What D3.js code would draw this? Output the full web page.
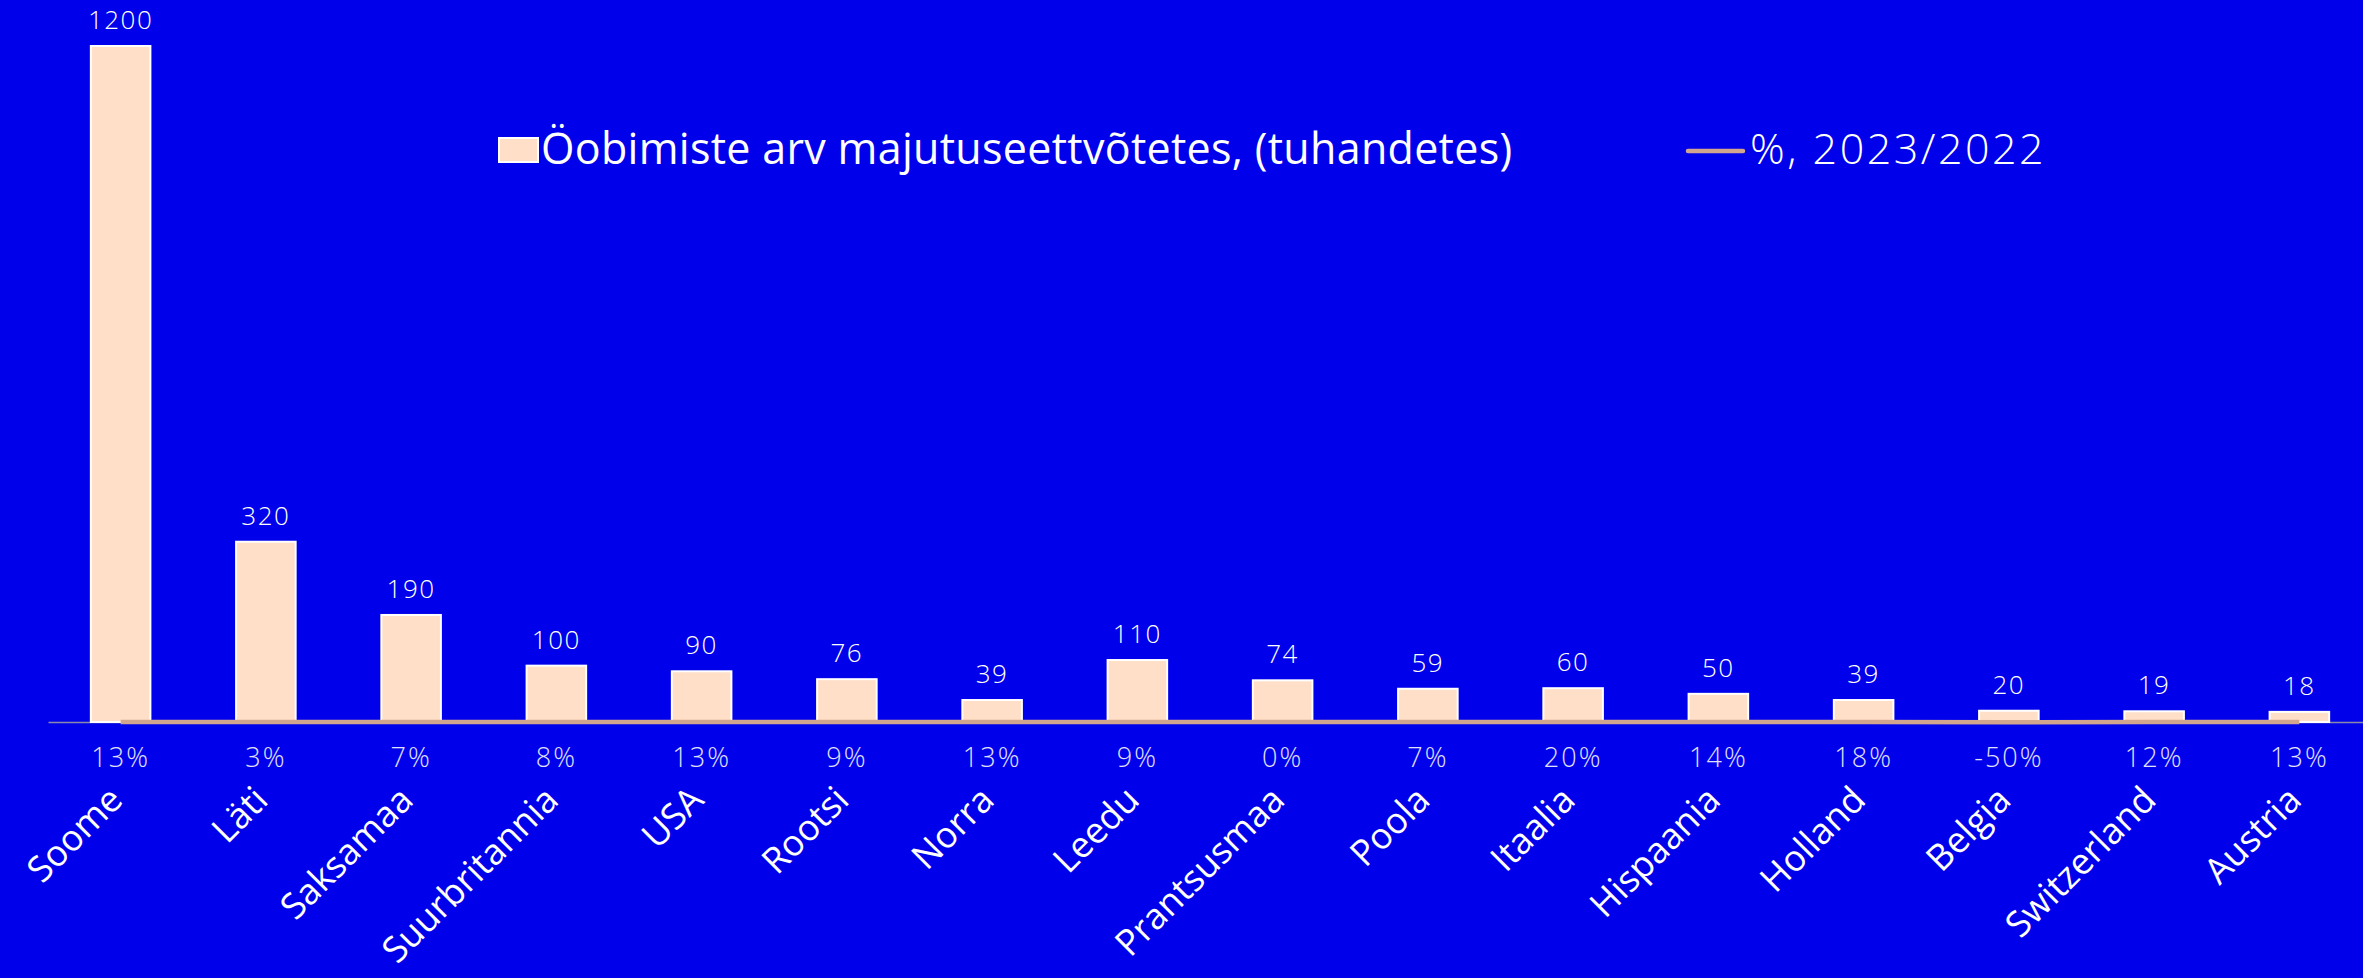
<!DOCTYPE html>
<html>
<head>
<meta charset="utf-8">
<script src="https://cdn.jsdelivr.net/npm/d3@7"></script>
<style>
  html, body { margin: 0; padding: 0; background: #0000EA; overflow: hidden; }
  text { font-family: "Open Sans", "Noto Sans", sans-serif; fill: #fff; }
</style>
</head>
<body>
<script>
// categories and values
const countries = ["Soome", "Läti", "Saksamaa", "Suurbritannia", "USA", "Rootsi", "Norra", "Leedu",
  "Prantsusmaa", "Poola", "Itaalia", "Hispaania", "Holland", "Belgia", "Switzerland", "Austria"];
const nights = [1200, 320, 190, 100, 90, 76, 39, 110, 74, 59, 60, 50, 39, 20, 19, 18];
const change = [0.13, 0.03, 0.07, 0.08, 0.13, 0.09, 0.13, 0.09, 0.00, 0.07, 0.20, 0.14, 0.18, -0.50, 0.12, 0.13];
const barLabel = "Öobimiste arv majutuseettvõtetes, (tuhandetes)";
const lineLabel = "%, 2023/2022";

const width = 2363, height = 978;
const baseY = 722;

const svg = d3.select("body").append("svg")
    .attr("width", width)
    .attr("height", height);

var x = d3.scaleBand().domain(countries).range([48, 2372]).paddingInner(0.59).paddingOuter(0.295);
var y = d3.scaleLinear().domain([0, d3.max(nights)]).range([baseY, 46]);

// axis line + category labels
const ax = svg.append("g")
    .attr("transform", `translate(0,${baseY})`)
    .call(d3.axisBottom(x).tickSize(0));
ax.select(".domain").attr("stroke", "#8a8aa8").attr("stroke-width", 1.5);
ax.selectAll(".tick text")
    .attr("y", 0).attr("dy", 0)
    .attr("text-anchor", "end")
    .attr("transform", "translate(4,80) rotate(-45)")
    .style("font-family", "'Open Sans', sans-serif")
    .style("font-size", "36px")
    .style("fill", "#fff");

// bars
svg.append("g").selectAll("rect")
  .data(nights)
  .join("rect")
    .attr("x", (d, i) => x(countries[i]))
    .attr("y", d => y(d))
    .attr("width", x.bandwidth())
    .attr("height", d => baseY - y(d))
    .attr("fill", "#FFDFC7")
    .attr("stroke", "#fff")
    .attr("stroke-width", 2);

// value labels
svg.append("g").selectAll("text")
  .data(nights)
  .join("text")
    .attr("x", (d, i) => x(countries[i]) + x.bandwidth() / 2)
    .attr("y", d => y(d) - 17)
    .attr("text-anchor", "middle")
    .style("font-size", "26px")
    .style("font-weight", 300)
    .style("letter-spacing", "1.5px")
    .text(d => d);

// % line (same scale, so it sits on the baseline)
var line = d3.line()
    .x((d, i) => x(countries[i]) + x.bandwidth() / 2)
    .y(d => y(d));
svg.append("path")
    .datum(change)
    .attr("fill", "none")
    .attr("stroke", "#D2A68E")
    .attr("stroke-width", 4.5)
    .attr("d", line);

// % labels
svg.append("g").selectAll("text")
  .data(change)
  .join("text")
    .attr("x", (d, i) => x(countries[i]) + x.bandwidth() / 2)
    .attr("y", 767)
    .attr("text-anchor", "middle")
    .style("font-size", "27px")
    .style("font-weight", 300)
    .style("letter-spacing", "2px")
    .style("fill", "#e0e0fa")
    .text(d => d3.format(".0%")(d).replace("−", "-"));

// legend
const lg = svg.append("g");
lg.append("rect")
    .attr("x", 499).attr("y", 138).attr("width", 39).attr("height", 24)
    .attr("fill", "#FFDFC7").attr("stroke", "#fff").attr("stroke-width", 2);
lg.append("text")
    .attr("x", 541).attr("y", 164)
    .style("font-size", "43px")
    .style("letter-spacing", "0.3px")
    .text(barLabel);
lg.append("line")
    .attr("x1", 1688).attr("x2", 1743).attr("y1", 151).attr("y2", 151)
    .attr("stroke", "#D2A68E").attr("stroke-width", 4.5).attr("stroke-linecap", "round");
lg.append("text")
    .attr("x", 1750).attr("y", 164)
    .style("font-size", "43px")
    .style("font-weight", 300)
    .style("letter-spacing", "2.5px")
    .text(lineLabel);
</script>
</body>
</html>
